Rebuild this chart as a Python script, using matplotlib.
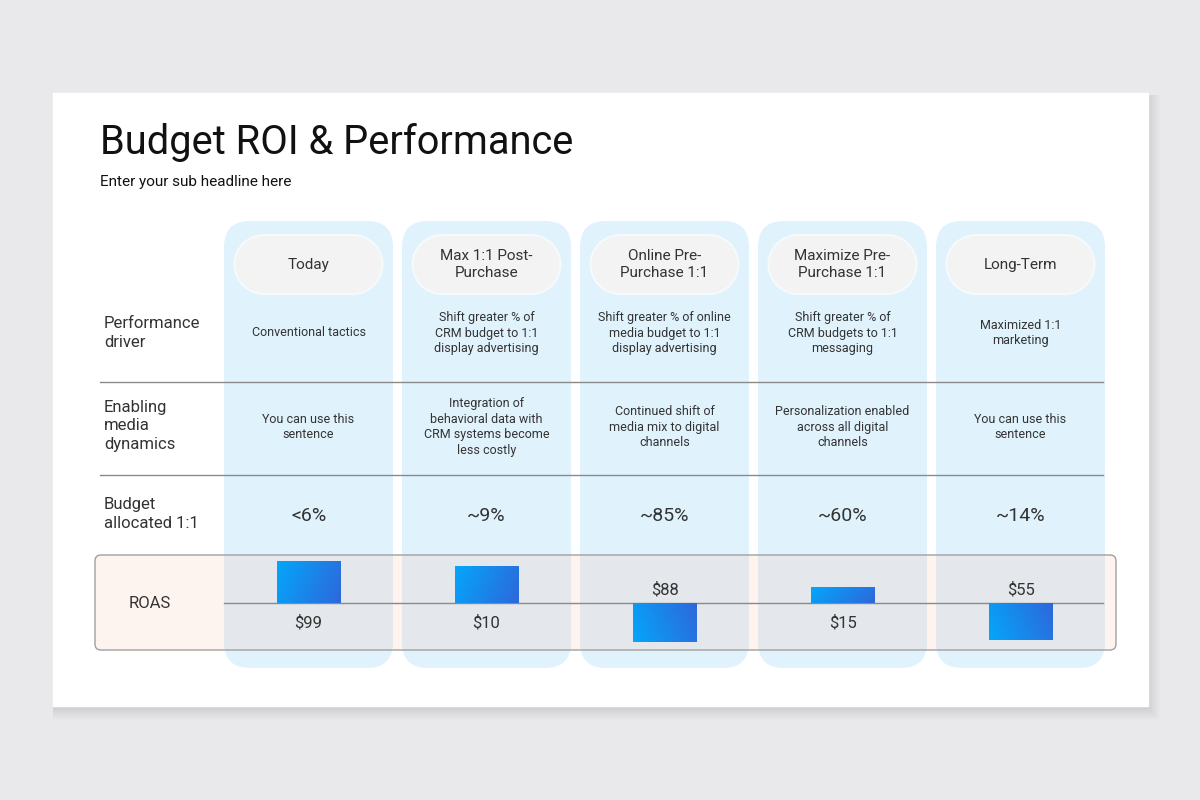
import numpy as np
import matplotlib
matplotlib.use("Agg")
import matplotlib.pyplot as plt
from matplotlib.patches import FancyBboxPatch, Rectangle, Circle

plt.rcParams["font.family"] = ["Roboto", "DejaVu Sans"]

# ---- data ----
stages = ["Today", "Max 1:1 Post-\nPurchase", "Online Pre-\nPurchase 1:1",
          "Maximize Pre-\nPurchase 1:1", "Long-Term"]
row_labels = ["Performance\ndriver", "Enabling\nmedia\ndynamics", "Budget\nallocated 1:1"]
drivers = ["Conventional tactics",
           "Shift greater % of\nCRM budget to 1:1\ndisplay advertising",
           "Shift greater % of online\nmedia budget to 1:1\ndisplay advertising",
           "Shift greater % of\nCRM budgets to 1:1\nmessaging",
           "Maximized 1:1\nmarketing"]
dynamics = ["You can use this\nsentence",
            "Integration of\nbehavioral data with\nCRM systems become\nless costly",
            "Continued shift of\nmedia mix to digital\nchannels",
            "Personalization enabled\nacross all digital\nchannels",
            "You can use this\nsentence"]
budget = ["<6%", "~9%", "~85%", "~60%", "~14%"]
roas_labels = ["$99", "$10", "$88", "$15", "$55"]
roas_bars = [42, 37, -39, 16, -37]   # bar size as drawn (up / down)

TEXT = "#333333"
COL_BLUE = "#e0f2fc"


def stadium(ax, cx, cy, w, h, color, z):
    r = h / 2
    ax.add_patch(Rectangle((cx - w / 2 + r, cy - r), w - 2 * r, h, color=color, lw=0, zorder=z))
    ax.add_patch(Circle((cx - w / 2 + r, cy), r, color=color, lw=0, zorder=z))
    ax.add_patch(Circle((cx + w / 2 - r, cy), r, color=color, lw=0, zorder=z))


fig = plt.figure(figsize=(12, 8), dpi=100)
fig.patch.set_facecolor("#e9e8ea")
ax = fig.add_axes([0, 0, 1, 1])
ax.set_xlim(0, 1200)
ax.set_ylim(800, 0)
ax.axis("off")

# card with soft shadow (right / bottom)
for k in range(12, 0, -1):
    ax.add_patch(Rectangle((53, 93 + 2), 1095 + k * 1.0, 613 + k * 1.0,
                           color="#9a999b", alpha=0.025, lw=0, zorder=0))
ax.add_patch(Rectangle((53, 93), 1095, 613, color="white", zorder=0.5))

ax.text(100, 142, "Budget ROI & Performance", fontsize=28.7, color="#111111",
        va="center", ha="left")
ax.text(100, 182, "Enter your sub headline here", fontsize=11, color="#111111",
        va="center", ha="left")

col_w = 169
step = 178
c0 = 308.5

# ROAS box (behind columns for the pink part)
box = FancyBboxPatch((95, 555), 1021, 95, boxstyle="round,pad=0,rounding_size=6",
                     facecolor="#fdf3ef", edgecolor="none", zorder=1)
ax.add_patch(box)

for i, name in enumerate(stages):
    cx = c0 + step * i
    col = FancyBboxPatch((cx - col_w / 2, 221), col_w, 447,
                         boxstyle="round,pad=0,rounding_size=26",
                         facecolor=COL_BLUE, edgecolor="none", zorder=2)
    ax.add_patch(col)
    # grey tint where column sits in ROAS box
    tint = FancyBboxPatch((cx - col_w / 2, 221), col_w, 447,
                          boxstyle="round,pad=0,rounding_size=26",
                          facecolor="#e4e8ec", edgecolor="none", zorder=2.1)
    ax.add_patch(tint)
    tint.set_clip_path(box)

    # pill header
    stadium(ax, cx, 264.5, 150, 61, "#f6fafc", 2.8)
    stadium(ax, cx, 264.5, 146, 57, "#f3f3f3", 3)
    ax.text(cx, 264.5, name, fontsize=11, color=TEXT, ha="center", va="center",
            linespacing=1.2, zorder=4)

    ax.text(cx, 333, drivers[i], fontsize=9, color=TEXT, ha="center", va="center",
            linespacing=1.25, zorder=4)
    ax.text(cx, 427, dynamics[i], fontsize=9, color=TEXT, ha="center", va="center",
            linespacing=1.25, zorder=4)
    ax.text(cx, 516, budget[i], fontsize=14, color=TEXT, ha="center", va="center",
            zorder=4)

# box outline on top
ax.add_patch(FancyBboxPatch((95, 555), 1021, 95, boxstyle="round,pad=0,rounding_size=6",
                            facecolor="none", edgecolor="#a0a0a0", lw=1, zorder=5))

# row separators
for y in (382, 475):
    ax.plot([100, 1103], [y, y], color="#8a8a8a", lw=1, zorder=4)

row_y = [333, 426, 514]
for lab, y in zip(row_labels, row_y):
    ax.text(104, y, lab, fontsize=12, color=TEXT, ha="left", va="center",
            linespacing=1.3, zorder=4)
ax.text(150, 603, "ROAS", fontsize=12, color=TEXT, ha="center", va="center", zorder=6)

# ROAS bars in their own axes
x0 = c0 - step / 2
bx = fig.add_axes([x0 / 1200, 1 - 650 / 800, step * 5 / 1200, 95 / 800])
bx.set_facecolor("none")
bx.axis("off")
xs = np.arange(len(roas_bars))
bars = bx.bar(xs, roas_bars, width=64 / step, color="#1a8cf0", zorder=6)
bx.axhline(0, xmin=(224 - x0) / (step * 5), xmax=(1103 - x0) / (step * 5),
           color="#8a8a8a", lw=1, zorder=5)
gx, gy = np.meshgrid(np.linspace(0, 1, 64), np.linspace(0, 1, 32))
grad = 0.8 * gx + 0.2 * (1 - gy)
bar_cmap = matplotlib.colors.LinearSegmentedColormap.from_list("b", ["#05a6fa", "#2d68db"])
for b in bars:
    x, y = b.get_x(), b.get_y()
    w, h = b.get_width(), b.get_height()
    im = bx.imshow(grad, cmap=bar_cmap, extent=(x, x + w, y, y + h),
                   origin="lower", aspect="auto", zorder=7)
    im.set_clip_path(b)
for xi, v, lab in zip(xs, roas_bars, roas_labels):
    off = -20 if v > 0 else 13
    bx.text(xi, off, lab, fontsize=12, color=TEXT, ha="center", va="center", zorder=8)
bx.set_xlim(-0.5, 4.5)
bx.set_ylim(-47, 48)

fig.savefig("out.png", dpi=100)
